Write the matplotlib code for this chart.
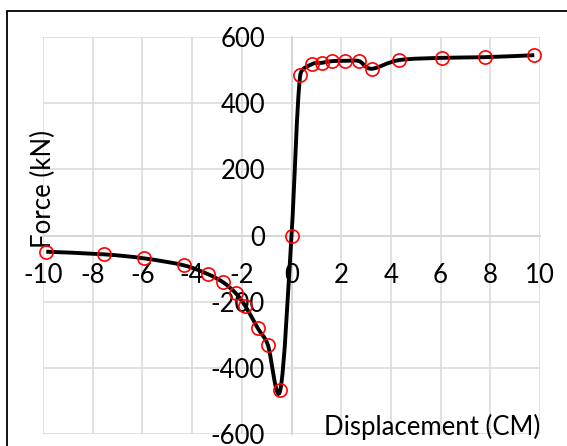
import numpy as np
import matplotlib.pyplot as plt
from matplotlib.path import Path
from matplotlib.patches import PathPatch, Rectangle

plt.rcParams['font.family'] = ['Lato', 'DejaVu Sans']
plt.rcParams['axes.unicode_minus'] = False

# displacement (cm) and force (kN) readings
displacement = [-9.87, -7.54, -5.94, -4.34, -3.36, -2.74, -2.24, -1.86, -1.35, -0.95, -0.45,
                0.0, 0.35, 0.83, 1.22, 1.63, 2.17, 2.72, 3.22, 4.32, 6.06, 7.77, 9.77]
force = [-49, -57, -69, -90, -117, -142, -175, -213, -281, -331, -467,
         0, 484, 518, 522, 527, 528, 527, 504, 530, 537, 539, 545]

x_ticks = [-10, -8, -6, -4, -2, 0, 2, 4, 6, 8, 10]
y_ticks = [-600, -400, -200, 0, 200, 400, 600]


def smooth_path(ax, xs, ys):
    # spreadsheet-style smoothed line: Bezier control points worked out in
    # pixel space, each handle capped at half the segment length
    trans = ax.transData
    pts = trans.transform(np.column_stack([xs, ys]).astype(float))
    ext = np.vstack([pts[0], pts, pts[-1]])
    verts = [pts[0]]
    codes = [Path.MOVETO]
    for i in range(1, len(ext) - 2):
        p0, p1, p2, p3 = ext[i - 1], ext[i], ext[i + 1], ext[i + 2]
        d12 = np.hypot(*(p2 - p1))
        d02 = np.hypot(*(p2 - p0))
        d13 = np.hypot(*(p3 - p1))
        c1 = p1 + (p2 - p0) / d02 * min(d02 / 6, d12 / 2) if d02 > 0 else p1
        c2 = p2 - (p3 - p1) / d13 * min(d13 / 6, d12 / 2) if d13 > 0 else p2
        verts += [c1, c2, p2]
        codes += [Path.CURVE4] * 3
    verts = trans.inverted().transform(np.array(verts))
    return Path(verts, codes)


fig = plt.figure(figsize=(5.67, 4.46), dpi=100)
ax = fig.add_axes([43 / 567, 1 - 434 / 446, 497 / 567, 397 / 446])

ax.set_xlim(-10, 10)
ax.set_ylim(-600, 600)
ax.set_xticks(x_ticks)
ax.set_yticks(y_ticks)
ax.grid(True, color='#d9d9d9', linewidth=1.1)
ax.set_axisbelow(True)

for side in ['top', 'right']:
    ax.spines[side].set_visible(False)
ax.spines['left'].set_position(('data', 0))
ax.spines['bottom'].set_position(('data', 0))
for side in ['left', 'bottom']:
    ax.spines[side].set_color('#bfbfbf')
    ax.spines[side].set_linewidth(1.1)
    ax.spines[side].set_zorder(0.5)

ax.tick_params(axis='both', length=0, labelsize=18.5, colors='#000000')
ax.tick_params(axis='y', pad=19)
ax.tick_params(axis='x', pad=20)

ax.add_patch(PathPatch(smooth_path(ax, displacement, force), facecolor='none',
                       edgecolor='black', linewidth=2.8, zorder=3))
ax.plot(displacement, force, linestyle='none', marker='o', markersize=9.5,
        markerfacecolor='none', markeredgecolor='#ff0000', markeredgewidth=1.2,
        zorder=4, clip_on=False)

ax.text(0.0, 0.618, 'Force (kN)', transform=ax.transAxes, rotation=90,
        ha='center', va='center', fontsize=18.5)
ax.text(1.0, 0.018, 'Displacement (CM)', transform=ax.transAxes,
        ha='right', va='center', fontsize=18.5)

# chart frame
fig.patches.append(Rectangle((7 / 567, -0.2), 1.2, 1.2 - 11 / 446,
                             transform=fig.transFigure, fill=False,
                             edgecolor='black', linewidth=1.3))

fig.savefig('out.png', dpi=100)
